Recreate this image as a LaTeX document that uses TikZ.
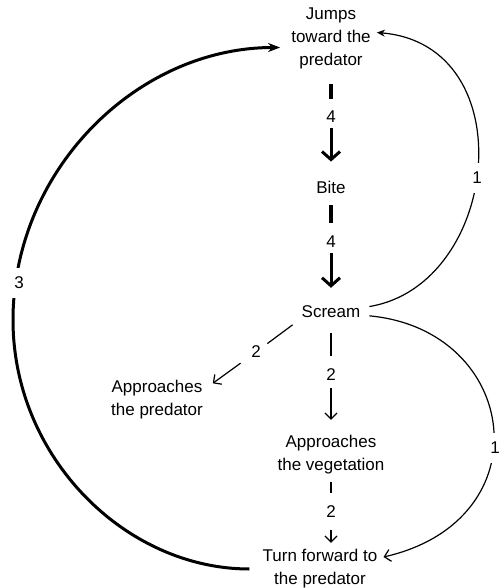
\documentclass[tikz,border=0pt]{standalone}
\usepackage{fontspec}
\setmainfont{Liberation Sans}
\usetikzlibrary{arrows.meta,calc}
\begin{document}
\begin{tikzpicture}[x=1pt,y=-1pt,
  txt/.style={font=\fontsize{17}{23}\selectfont, align=center, inner sep=0pt},
  lbl/.style={font=\fontsize{17}{23}\selectfont, inner sep=0pt},
  wlbl/.style={lbl, fill=white, inner xsep=3pt, inner ysep=9pt},
  thinline/.style={line width=1.2pt},
  thinarrow/.style={thinline, -{Straight Barb[length=6pt,width=12pt]}},
  barline/.style={line width=4.5pt},
  bigarrow/.style={line width=3pt, -{Straight Barb[length=8pt,width=18pt]}},
]
\useasboundingbox (0,0) rectangle (503,588);

\node[txt] (J) at (331,38.5) {Jumps\\toward the\\predator};
\node[txt] (B) at (331,187) {Bite};
\node[txt] (S) at (331,312) {Scream};
\node[txt] (AP) at (157,400) {Approaches\\the predator};
\node[txt] (V) at (331,455) {Approaches\\the vegetation};
\node[txt] (T) at (320,569) {Turn forward to\\the predator};

\node[lbl] (l1) at (331,117) {4};
\node[lbl] (l2) at (331,242) {4};
\node[lbl] (l4) at (331,375) {2};
\node[lbl] (l5) at (331,512) {2};
\node[lbl] (l6) at (256,352) {2};

% Jumps -> Bite
\draw[barline, shorten <=15pt, shorten >=12pt] (J) -- (l1);
\draw[bigarrow, shorten <=5pt, shorten >=19pt] (l1) -- (B);
% Bite -> Scream
\draw[barline, shorten <=12pt, shorten >=13pt] (B) -- (l2);
\draw[bigarrow, shorten <=5pt, shorten >=18pt] (l2) -- (S);
% Scream -> Approaches the vegetation
\draw[thinline, shorten <=15pt, shorten >=13pt] (S) -- (l4);
\draw[thinarrow, shorten <=7pt, shorten >=15.6pt] (l4) -- (V);
% Approaches the vegetation -> Turn
\draw[thinline, shorten <=7pt, shorten >=13pt] (V) -- (l5);
\draw[thinarrow, shorten <=12pt, shorten >=6.6pt] (l5) -- (l5 |- T.north);
% Scream -> Approaches the predator
\draw[thinline, shorten <=11pt, shorten >=8pt] (S.south west) -- (l6);
\draw[thinarrow, shorten <=13pt, shorten >=12pt] (l6) -- ([yshift=-10pt]AP.north east);

% Turn -> Jumps (big left arc)
\draw[line width=3pt, -{Stealth[length=12pt,width=9pt]}, shorten <=13pt, shorten >=11pt]
  (T.west) .. controls (125,569) and (13,457) .. (13,320)
  .. controls (13,170) and (137,47.5) .. ([yshift=-9pt]J.west);
\node[wlbl] (l3) at (19,283) {3};

% Scream -> Jumps (upper right arc)
\draw[thinline, -{Stealth[length=8pt,width=7pt]}, shorten <=9pt]
  ([yshift=4pt]S.east) .. controls (500,285) and (525,45) .. ([xshift=6pt,yshift=6pt]J.east);
\node[wlbl] (l7) at (477,178) {1};

% Scream -> Turn (lower right arc)
\draw[thinarrow, shorten <=9pt]
  ([yshift=-3pt]S.east) .. controls (520,330) and (545,520) .. ([xshift=6pt,yshift=12pt]T.east);
\node[wlbl] (l8) at (495,448) {1};
\end{tikzpicture}
\end{document}
